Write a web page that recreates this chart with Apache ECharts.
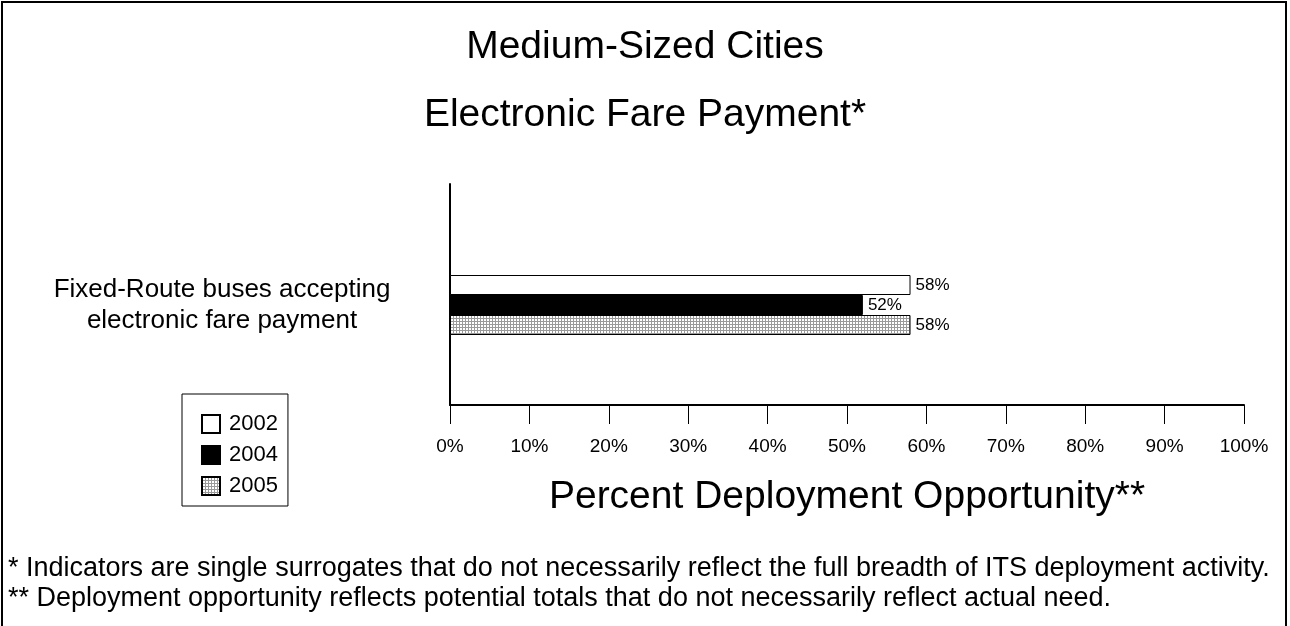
<!DOCTYPE html>
<html>
<head>
<meta charset="utf-8">
<script src="https://cdn.jsdelivr.net/npm/echarts@6/dist/echarts.min.js"></script>
<style>
html,body{margin:0;padding:0;background:#fff;}
#frame{position:absolute;left:1px;top:1px;width:1286px;height:640px;border:2px solid #000;box-sizing:border-box;}
#chart{position:absolute;left:0;top:0;width:1290px;height:626px;}
</style>
</head>
<body>
<div id="frame"></div>
<div id="chart"></div>
<script>
const categories = ['Fixed-Route buses accepting\nelectronic fare payment'];
const seriesNames = ['2002', '2004', '2005'];
const values2002 = [58];
const values2004 = [52];
const values2005 = [58];
const xTicks = { min: 0, max: 100, interval: 10 };
const titleMain = 'Medium-Sized Cities';
const titleSub = 'Electronic Fare Payment*';
const axisTitle = 'Percent Deployment Opportunity**';
const footnote1 = '* Indicators are single surrogates that do not necessarily reflect the full breadth of ITS deployment activity.';
const footnote2 = '** Deployment opportunity reflects potential totals that do not necessarily reflect actual need.';

function makePattern() {
  const c = document.createElement('canvas');
  c.width = 3; c.height = 3;
  const g = c.getContext('2d');
  g.fillStyle = '#ffffff';
  g.fillRect(0, 0, 3, 3);
  g.fillStyle = '#9a9a9a';
  g.fillRect(0, 0, 3, 1);
  g.fillRect(0, 0, 1, 3);
  return { image: c, repeat: 'repeat' };
}

const FONT = '"Liberation Sans", Arial, sans-serif';
const chart = echarts.init(document.getElementById('chart'));

const labelCfg = {
  show: true, position: 'right', distance: 5,
  formatter: '{c}%', color: '#000', fontSize: 17, fontFamily: FONT
};

chart.setOption({
  animation: false,
  backgroundColor: 'transparent',
  textStyle: { fontFamily: FONT, color: '#000' },
  title: [
    { text: titleMain, left: 'center', top: 23, textStyle: { fontSize: 39, fontWeight: 'normal', color: '#000', fontFamily: FONT } },
    { text: titleSub, left: 'center', top: 91, textStyle: { fontSize: 39, fontWeight: 'normal', color: '#000', fontFamily: FONT } },
    { text: footnote1, left: 3, top: 550, textStyle: { fontSize: 27, fontWeight: 'normal', color: '#000', fontFamily: FONT } },
    { text: footnote2, left: 3, top: 580, textStyle: { fontSize: 27, fontWeight: 'normal', color: '#000', fontFamily: FONT } }
  ],
  legend: {
    data: seriesNames,
    orient: 'vertical',
    left: 182, top: 394,
    itemWidth: 18, itemHeight: 18, itemGap: 9,
    icon: 'rect',
    borderColor: '#000', borderWidth: 1,
    padding: [19, 10, 9, 19],
    textStyle: { fontSize: 22, color: '#000', fontFamily: FONT, padding: [0, 0, 0, 4] }
  },
  grid: [
    { left: 450, right: 46, top: 205, bottom: 221, containLabel: false },
    { left: 450, right: 46, top: 184, bottom: 221, containLabel: false }
  ],
  xAxis: [
    {
      gridIndex: 0, type: 'value', min: xTicks.min, max: xTicks.max, interval: xTicks.interval,
      axisLine: { show: true, lineStyle: { color: '#000', width: 2 } },
      axisTick: { show: true, length: 19, lineStyle: { color: '#000', width: 1 } },
      splitLine: { show: false },
      axisLabel: { formatter: '{value}%', fontSize: 19, color: '#000', margin: 32, fontFamily: FONT },
      name: axisTitle, nameLocation: 'middle', nameGap: 73,
      nameTextStyle: { fontSize: 39, color: '#000', fontFamily: FONT }
    },
    { gridIndex: 1, type: 'value', min: 0, max: 100, show: false }
  ],
  yAxis: [
    {
      gridIndex: 0, type: 'category', data: categories,
      axisLine: { show: false }, axisTick: { show: false },
      axisLabel: { fontSize: 26, lineHeight: 31, color: '#000', align: 'center', margin: 228, fontFamily: FONT }
    },
    {
      gridIndex: 1, type: 'value', min: 0, max: 1,
      axisLine: { show: true, lineStyle: { color: '#000', width: 2 } },
      axisTick: { show: false }, axisLabel: { show: false }, splitLine: { show: false }
    }
  ],
  series: [
    { name: seriesNames[0], type: 'bar', xAxisIndex: 0, yAxisIndex: 0, data: values2002, barWidth: 20, barGap: '0%',
      itemStyle: { color: '#ffffff', borderColor: '#000', borderWidth: 1 }, label: labelCfg },
    { name: seriesNames[1], type: 'bar', xAxisIndex: 0, yAxisIndex: 0, data: values2004, barWidth: 20, barGap: '0%',
      itemStyle: { color: '#000000', borderColor: '#000', borderWidth: 1 }, label: labelCfg },
    { name: seriesNames[2], type: 'bar', xAxisIndex: 0, yAxisIndex: 0, data: values2005, barWidth: 20, barGap: '0%',
      itemStyle: { color: makePattern(), borderColor: '#000', borderWidth: 1 }, label: labelCfg }
  ]
});
</script>
</body>
</html>
